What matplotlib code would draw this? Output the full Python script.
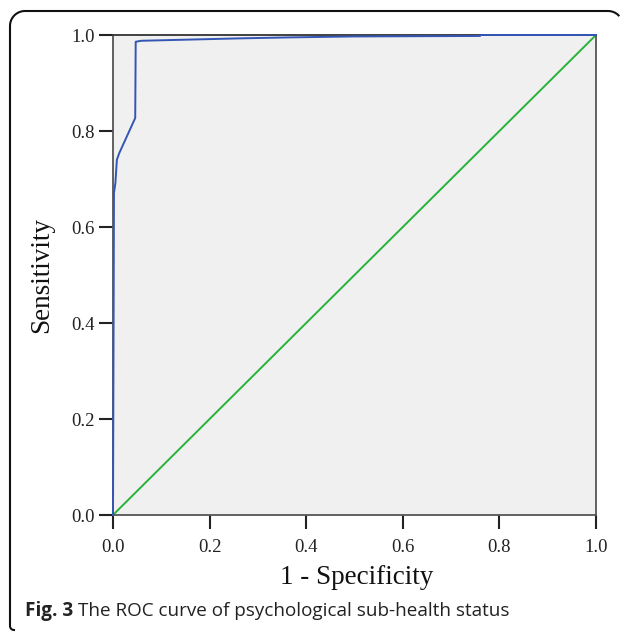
import numpy as np
import matplotlib
matplotlib.use("Agg")
import matplotlib.pyplot as plt
from matplotlib.lines import Line2D

# ROC curve data
fpr = [0.0, 0.0, 0.002, 0.005, 0.008, 0.013, 0.046, 0.047, 0.059, 0.263, 0.366, 0.5, 0.76, 0.76, 1.0]
tpr = [0.0, 0.0, 0.671, 0.692, 0.740, 0.754, 0.827, 0.986, 0.988, 0.993, 0.995, 0.997, 0.998, 1.0, 1.0]
ref = [0.0, 1.0]
ticks = [0.0, 0.2, 0.4, 0.6, 0.8, 1.0]
tick_labels = ["0.0", "0.2", "0.4", "0.6", "0.8", "1.0"]

W, H = 630, 634
fig = plt.figure(figsize=(W / 100, H / 100), dpi=100)
fig.patch.set_facecolor("white")

ax = fig.add_axes([113 / W, 1 - 515 / H, (596 - 113) / W, (515 - 35) / H])
ax.set_facecolor("#f0f0f0")
ax.plot(ref, ref, color="#27b33a", lw=1.4, zorder=2)
ax.plot(fpr, tpr, color="#3355b5", lw=1.4, zorder=3, clip_on=False)
ax.set_xlim(0, 1)
ax.set_ylim(0, 1)
ax.set_xticks(ticks)
ax.set_xticklabels(tick_labels)
ax.set_yticks(ticks)
ax.set_yticklabels(tick_labels)
for s in ax.spines.values():
    s.set_color("#555555")
    s.set_linewidth(1.3)
ax.spines["top"].set_color("#333333")
ax.tick_params(direction="out", length=10, width=1.5, color="#222222",
               labelsize=13.5, pad=7)
ax.tick_params(axis="y", pad=3)
for lab in ax.get_xticklabels() + ax.get_yticklabels():
    lab.set_family("Liberation Serif")
    lab.set_color("#222222")

fig.text(357 / W, 1 - 578 / H, "1 - Specificity", ha="center", va="center",
         fontsize=19.5, family="Liberation Serif", color="#111111")
fig.text(42 / W, 1 - 275 / H, "Sensitivity", ha="center", va="center",
         rotation=90, fontsize=19.5, family="Liberation Serif", color="#111111")

# caption
t1 = fig.text(25 / W, 1 - 611 / H, "Fig. 3", ha="left", va="center",
              fontsize=13.6, family="Open Sans", weight="bold", color="#222222")
fig.canvas.draw()
bb = t1.get_window_extent()
fig.text((bb.x1 + 5) / W, 1 - 611 / H, "The ROC curve of psychological sub-health status",
         ha="left", va="center", fontsize=13.6, family="Open Sans", color="#222222")

# rounded border (partial)
r = 15
pts = []
pts.append((10, 626))
pts.append((10, 11 + r))
th = np.linspace(np.pi, 1.5 * np.pi, 20)
pts += [(10 + r + r * np.cos(t), 11 + r + r * np.sin(t)) for t in th]
pts.append((618 - r + 5, 11))
th = np.linspace(1.5 * np.pi, 1.75 * np.pi, 10)
pts += [(618 - r + 5 + r * np.cos(t), 11 + r + r * np.sin(t)) for t in th]
th = np.linspace(np.pi, 0.5 * np.pi, 10)
tail = [(14 + 4 * np.cos(t), 626 + 4 * np.sin(t)) for t in th]
pts = tail[::-1][:-1] + pts
xs = [p[0] / W for p in pts]
ys = [1 - p[1] / H for p in pts]
fig.add_artist(Line2D(xs, ys, transform=fig.transFigure, color="#111111", lw=1.5))

fig.savefig("out.png", dpi=100)
